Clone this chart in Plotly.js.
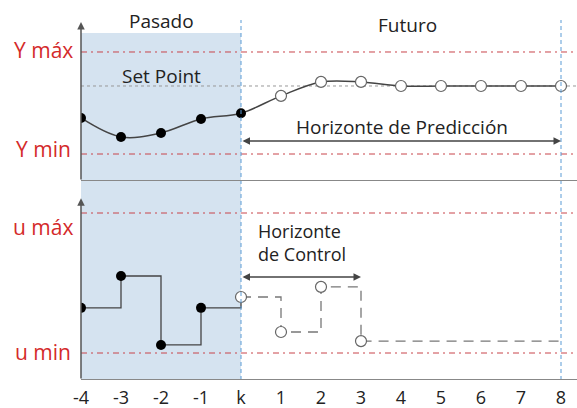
<!DOCTYPE html>
<html>
<head>
<meta charset="utf-8">
<script src="https://cdn.plot.ly/plotly-3.0.1.min.js"></script>
<style>html,body{margin:0;padding:0;background:#fff}#chart{width:577px;height:408px}</style>
</head>
<body>
<div id="chart"></div>
<script>
// ---- data ----
var tickVals = [-4,-3,-2,-1,0,1,2,3,4,5,6,7,8];
var tickText = ["-4","-3","-2","-1","k","1","2","3","4","5","6","7","8"];

// output (top panel)
var yPastX = [-4,-3,-2,-1,0];
var yPast  = [2.06,1.5,1.62,2.03,2.2];
var yFutX  = [1,2,3,4,5,6,7,8];
var yFut   = [2.71,3.12,3.12,3.0,3.0,3.0,3.0,3.0];
var yMax = 4, yMin = 1, setPoint = 3;

// control (bottom panel)
var uPastX = [-4,-3,-2,-1,0];
var uPast  = [1.29,2.2,0.23,1.29,1.6];
var uFutX  = [0,1,2,3];
var uFut   = [1.6,0.6,1.89,0.34];
var uEndX  = 8;
var uMax = 4, uMin = 0;

var predHorizon = [0,8];
var ctrlHorizon = [0,3];

// ---- build ----
var lineCol = '#444';
var openCol = '#666';
var redCol = '#c8454a';
var red = '#d42a2a';
var blueDash = '#5b9bd5';
var FONT = '"Open Sans", sans-serif';

var allX = yPastX.concat(yFutX);
var allY = yPast.concat(yFut);

var traces = [
  {x: allX, y: allY, xaxis:'x', yaxis:'y', mode:'lines', line:{shape:'spline', smoothing:1, color:lineCol, width:1.5}},
  {x: yPastX, y: yPast, xaxis:'x', yaxis:'y', mode:'markers', marker:{size:10, color:'#000'}},
  {x: yFutX, y: yFut, xaxis:'x', yaxis:'y', mode:'markers', marker:{size:11, color:'#fff', line:{color:openCol, width:1.2}}},
  {x: uPastX, y: uPast, xaxis:'x', yaxis:'y2', mode:'lines', line:{shape:'hv', color:lineCol, width:1.3}},
  {x: uFutX.concat([uEndX]), y: uFut.concat([uFut[uFut.length-1]]), xaxis:'x', yaxis:'y2', mode:'lines', line:{shape:'hv', color:'#777', width:1.3, dash:'10px,7px'}},
  {x: uPastX.slice(0,4), y: uPast.slice(0,4), xaxis:'x', yaxis:'y2', mode:'markers', marker:{size:10, color:'#000'}},
  {x: uFutX, y: uFut, xaxis:'x', yaxis:'y2', mode:'markers', marker:{size:11, color:'#fff', line:{color:openCol, width:1.2}}}
];

var topRange = [0.206, 4.941];
var botRange = [-0.771, 4.429];
var dd = '6px,4px,2px,4px';

var shapes = [
  {type:'rect', xref:'x', yref:'paper', x0:-4, x1:0, y0:0, y1:0.964, fillcolor:'#d5e3f0', line:{width:0}, layer:'below'},
  {type:'line', xref:'x', yref:'y', x0:-4, x1:8.4, y0:yMax, y1:yMax, line:{color:redCol, width:1, dash:dd}},
  {type:'line', xref:'x', yref:'y', x0:-4, x1:8.4, y0:yMin, y1:yMin, line:{color:redCol, width:1, dash:dd}},
  {type:'line', xref:'x', yref:'y2', x0:-4, x1:8.4, y0:uMax, y1:uMax, line:{color:redCol, width:1, dash:dd}},
  {type:'line', xref:'x', yref:'y2', x0:-4, x1:8.4, y0:uMin, y1:uMin, line:{color:redCol, width:1, dash:dd}},
  {type:'line', xref:'x', yref:'y', x0:-4, x1:8.4, y0:setPoint, y1:setPoint, line:{color:'#999', width:1, dash:'dot'}, layer:'below'},
  {type:'line', xref:'x', yref:'paper', x0:0, x1:0, y0:0, y1:1, line:{color:blueDash, width:1, dash:'4px,3px'}},
  {type:'line', xref:'x', yref:'paper', x0:8, x1:8, y0:0, y1:1, line:{color:blueDash, width:1, dash:'4px,3px'}},
  {type:'line', xref:'x', yref:'y', x0:-4, x1:8.4, y0:topRange[0], y1:topRange[0], line:{color:'#888', width:1.8}},
  {type:'line', xref:'x', yref:'y2', x0:-4, x1:8.4, y0:botRange[0], y1:botRange[0], line:{color:'#888', width:1.8}}
];

var txt = {family:FONT, size:19, color:'#222'};
var redTxt = {family:FONT, size:21, color:red};

function lab(xref, yref, x, y, text, font, xanchor) {
  return {xref:xref, yref:yref, x:x, y:y, text:text, showarrow:false, font:font,
          xanchor:xanchor || 'center', yanchor:'middle', align:'left'};
}

var annotations = [
  // axis arrows
  {xref:'x', yref:'y', x:-4, y:4.88, axref:'x', ayref:'y', ax:-4, ay:topRange[0], showarrow:true, arrowhead:2, arrowsize:1, arrowwidth:1.5, arrowcolor:'#555', text:''},
  {xref:'x', yref:'y2', x:-4, y:4.42, axref:'x', ayref:'y2', ax:-4, ay:botRange[0], showarrow:true, arrowhead:2, arrowsize:1, arrowwidth:1.5, arrowcolor:'#555', text:''},
  // horizons
  {xref:'x', yref:'y', x:predHorizon[1], y:1.38, axref:'x', ayref:'y', ax:predHorizon[0], ay:1.38, showarrow:true, arrowside:'end+start', arrowhead:2, arrowsize:1, arrowwidth:1.5, arrowcolor:'#444', text:''},
  {xref:'x', yref:'y2', x:ctrlHorizon[1], y:2.17, axref:'x', ayref:'y2', ax:ctrlHorizon[0], ay:2.17, showarrow:true, arrowside:'end+start', arrowhead:2, arrowsize:1, arrowwidth:1.5, arrowcolor:'#444', text:''},
  lab('x','y', 4.02, 1.79, 'Horizonte de Predicción', txt),
  lab('x','y2', 0.38, 3.17, 'Horizonte<br>de Control', {family:FONT, size:18, color:'#222'}, 'left'),
  lab('x','y', -2, 3.29, 'Set Point', txt),
  lab('x','paper', -2, 0.997, 'Pasado', txt),
  lab('x','paper', 4.15, 0.986, 'Futuro', txt),
  lab('paper','paper', -0.0766, 0.9167, 'Y máx', redTxt),
  lab('paper','paper', -0.0766, 0.6417, 'Y min', redTxt),
  lab('paper','paper', -0.0766, 0.425, 'u máx', redTxt),
  lab('paper','paper', -0.0766, 0.0778, 'u min', redTxt)
];

var layout = {
  width:577, height:408,
  margin:{l:81, r:0, t:20, b:28},
  paper_bgcolor:'#fff', plot_bgcolor:'rgba(0,0,0,0)',
  showlegend:false,
  xaxis:{range:[-4,8.4], anchor:'y2', tickvals:tickVals, ticktext:tickText, showgrid:false, zeroline:false, showline:false,
         ticks:'outside', ticklen:1, tickcolor:'rgba(0,0,0,0)', tickfont:{family:FONT, size:18, color:'#222'}},
  yaxis:{domain:[0.5528,1], range:topRange, anchor:'x', showgrid:false, zeroline:false, showticklabels:false, showline:false},
  yaxis2:{domain:[0,0.5056], range:botRange, anchor:'x', showgrid:false, zeroline:false, showticklabels:false, showline:false},
  shapes:shapes,
  annotations:annotations
};

Plotly.newPlot('chart', traces, layout, {displayModeBar:false, staticPlot:true});
</script>
</body>
</html>
